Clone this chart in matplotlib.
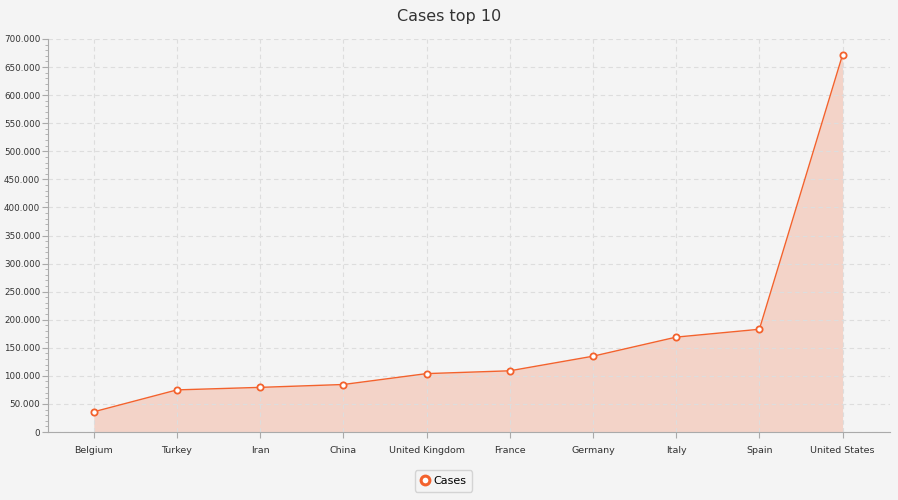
import matplotlib
matplotlib.use("Agg")
import matplotlib.pyplot as plt
from matplotlib.ticker import FuncFormatter, MultipleLocator

countries = ["Belgium", "Turkey", "Iran", "China", "United Kingdom", "France",
             "Germany", "Italy", "Spain", "United States"]
cases = [36000, 75000, 79500, 84600, 104000, 109000, 135000, 169000, 183000, 672000]

bg = "#f4f4f4"
col = "#f3622d"
fig = plt.figure(figsize=(8.98, 5.0), dpi=100, facecolor=bg)
ax = fig.add_axes([48/898, 1-432/500, 842/898, 393/500], facecolor=bg)
x = list(range(len(countries)))
ax.fill_between(x, cases, color=col, alpha=0.22, lw=0)
ax.plot(x, cases, color=col, lw=1, marker="o", ms=4.5, mfc="white", mec=col, mew=1.3, label="Cases")
ax.set_xlim(-0.55, 9.57)
ax.set_ylim(0, 700000)
ax.set_xticks(x)
ax.set_xticklabels(countries, fontsize=6.8, color="#333333")
ax.yaxis.set_major_locator(MultipleLocator(50000))
ax.yaxis.set_minor_locator(MultipleLocator(10000))
ax.yaxis.set_major_formatter(FuncFormatter(lambda v, p: "0" if v == 0 else f"{int(v):,}".replace(",", ".")))
ax.tick_params(axis="y", labelsize=6.3, colors="#333333", length=4, color="#aaaaaa", pad=1.5)
ax.tick_params(axis="y", which="minor", length=2, color="#aaaaaa")
ax.tick_params(axis="x", length=4, color="#aaaaaa", pad=6)
ax.grid(True, which="major", color="#dddddd", ls=(0, (4, 3)), lw=0.8)
for s in ["top", "right"]:
    ax.spines[s].set_visible(False)
for s in ["left", "bottom"]:
    ax.spines[s].set_color("#aaaaaa")
fig.text(0.5, 1-17/500, "Cases top 10", ha="center", va="center", fontsize=11.5, color="#333333")
leg = fig.legend(loc="center", bbox_to_anchor=(0.494, 1-481/500), fontsize=8, frameon=True,
                 handlelength=0.8, handletextpad=0.4, borderpad=0.5, markerscale=1.4)
leg.get_frame().set_facecolor(bg)
leg.get_frame().set_edgecolor("#cccccc")
h = leg.legend_handles[0]
h.set_linestyle("none")
h.set_markeredgewidth(2.2)
fig.savefig("out.png", dpi=100, facecolor=bg)
